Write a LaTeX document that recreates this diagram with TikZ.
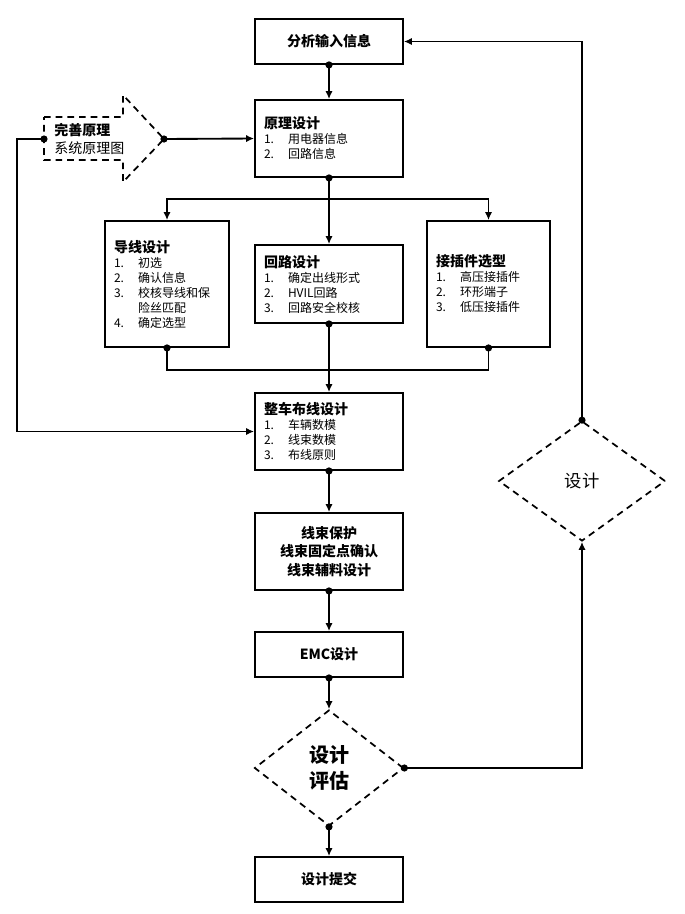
\documentclass[tikz,border=0pt]{standalone}
\usepackage{fontspec}
\setmainfont{Noto Sans CJK SC}
\usetikzlibrary{shapes.geometric,arrows.meta}

\newcommand{\itm}[2]{\makebox[18pt][l]{#1}#2}
\newcommand{\ttl}[1]{{\fontsize{10.5}{13}\selectfont\bfseries #1}}

\tikzset{
    box/.style={draw, line width=1.4pt, minimum width=111pt, minimum height=33.75pt,
        inner sep=0pt, align=center, font=\fontsize{10.5}{13.9}\selectfont\bfseries},
    listbox/.style={draw, line width=1.4pt, minimum width=111pt, minimum height=57.75pt,
        inner xsep=6.75pt, inner ysep=0pt, text width=97.5pt, align=left,
        font=\fontsize{9}{11.25}\selectfont},
    decision/.style={diamond, draw, line width=1.3pt, dash pattern=on 5pt off 3.75pt,
        inner sep=0pt, align=center},
    flow/.style={line width=1.4pt, -{Latex[length=6pt,width=5.5pt]}},
    link/.style={line width=1.4pt},
}

\begin{document}
\begin{tikzpicture}[x=0.75pt, y=-0.75pt]
    \useasboundingbox[fill=white] (0,0) rectangle (685,914);

    % main column
    \node[box] (input) at (329,41.5) {分析输入信息};
    \node[listbox] (prin) at (329,138.5)
        {\ttl{原理设计}\\ \itm{1.}{用电器信息}\\ \itm{2.}{回路信息}};
    \node[listbox, minimum width=93pt, text width=79.5pt, minimum height=94.5pt] (wire) at (167,284)
        {\ttl{导线设计}\\ \itm{1.}{初选}\\ \itm{2.}{确认信息}\\ \itm{3.}{校核导线和保}\\
         \itm{}{险丝匹配}\\ \itm{4.}{确定选型}};
    \node[listbox, minimum height=58.5pt] (loop) at (329,284)
        {\ttl{回路设计}\\ \itm{1.}{确定出线形式}\\ \itm{2.}{HVIL回路}\\ \itm{3.}{回路安全校核}};
    \node[listbox, minimum width=92.25pt, text width=78.75pt, minimum height=94.5pt] (conn) at (488.5,284)
        {\ttl{接插件选型}\\ \itm{1.}{高压接插件}\\ \itm{2.}{环形端子}\\ \itm{3.}{低压接插件}\\[11pt]};
    \node[listbox] (route) at (329,431.5)
        {\ttl{整车布线设计}\\ \itm{1.}{车辆数模}\\ \itm{2.}{线束数模}\\ \itm{3.}{布线原则}};
    \node[box, minimum height=57.75pt] (harn) at (329,551.5) {线束保护\\线束固定点确认\\线束辅料设计};
    \node[box] (emc) at (329,654.5) {EMC设计};
    \node[decision, minimum width=111.75pt, minimum height=87pt,
        font=\fontsize{15}{20}\selectfont\bfseries] (eval) at (329,768) {设计\\评估};
    \node[box] (submit) at (329,879.5) {设计提交};

    % feedback decision
    \node[decision, minimum width=125pt, minimum height=90pt,
        font=\fontsize{13}{15}\selectfont] (design) at (582,481) {设计};

    % dashed arrow note
    \node[anchor=west, inner sep=0pt, align=left, font=\fontsize{10.5}{13}\selectfont] (fix) at (54,139)
        {\textbf{完善原理}\\系统原理图};
    \draw[line width=1.3pt, dash pattern=on 5pt off 3.75pt]
        (44,117) -- (123,117) -- (123,95) -- (164,139) -- (123,182) -- (123,160) -- (44,160) -- cycle;
    \coordinate (fixtip) at (164,139);
    \coordinate (fixtail) at (44,139);

    % connectors
    \coordinate (fork) at (329,199);
    \coordinate (join) at (329,370);
    \draw[flow] (input.south) -- (prin.north);
    \draw[flow] (fixtip) -- (prin.west);
    \draw[flow] (fixtail) -- ++(-27,0) |- (route.west);
    \draw[flow] (prin.south) -- (loop.north);
    \draw[flow] (fork) -| (wire.north);
    \draw[flow] (fork) -| (conn.north);
    \draw[link] (wire.south) |- (join);
    \draw[link] (conn.south) |- (join);
    \draw[flow] (loop.south) -- (route.north);
    \draw[flow] (route.south) -- (harn.north);
    \draw[flow] (harn.south) -- (emc.north);
    \draw[flow] (emc.south) -- (eval.north);
    \draw[flow] (eval.south) -- (submit.north);
    \draw[flow] (eval.east) -| (design.south);
    \draw[flow] (design.north) |- (input.east);

    % junction dots
    \foreach \p in {input.south, prin.south, fixtip, fixtail, wire.south, loop.south, conn.south,
        route.south, harn.south, emc.south, eval.south, eval.east, design.north}
        \fill (\p) circle[radius=2.7pt];
\end{tikzpicture}
\end{document}
